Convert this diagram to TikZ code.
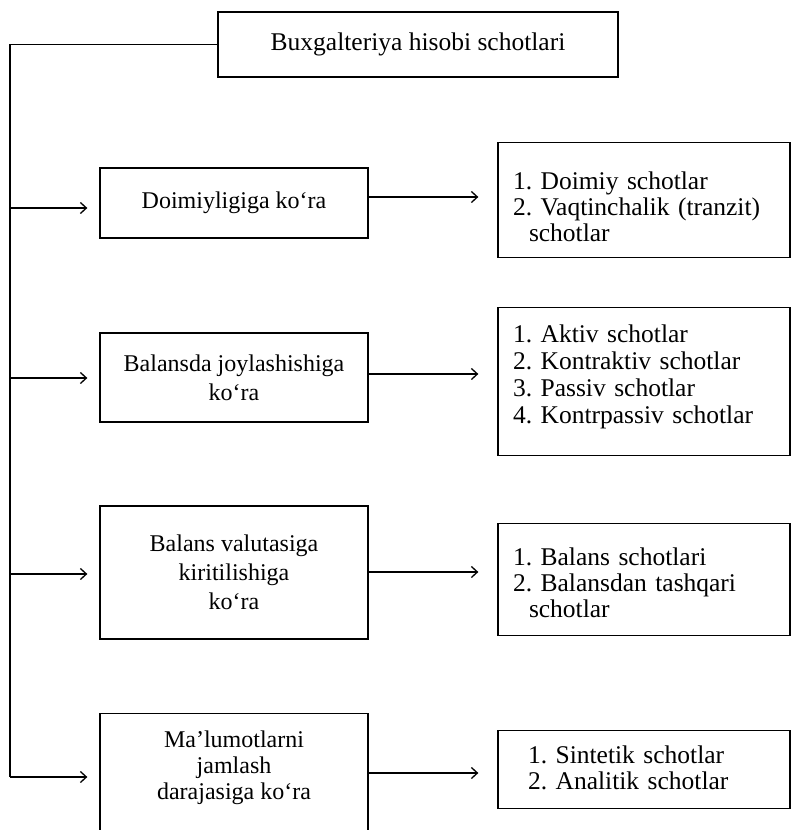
\documentclass[tikz,border=0pt]{standalone}
\usepackage{fontspec}
\setmainfont{Liberation Serif}
\usetikzlibrary{arrows.meta}
\frenchspacing
\begin{document}
\begin{tikzpicture}[x=1pt,y=-1pt,
  box/.style={draw, rectangle, line width=1.3pt, inner sep=0pt},
  crit/.style={box, minimum width=268pt, align=center,
    font=\fontsize{24}{29}\selectfont},
  list/.style={box, anchor=north, minimum width=292pt, text width=262pt, align=left,
    font=\fontsize{25.5}{26}\selectfont},
  arr/.style={-{Straight Barb[length=6pt,width=11pt]}, line width=1.3pt},
]
\clip (0,0) rectangle (791,830);

% title
\node[box, minimum width=400pt, minimum height=65pt,
  font=\fontsize{25.5}{26}\selectfont] (top) at (418,44.5) {Buxgalteriya hisobi schotlari};

% classification criteria
\node[crit, minimum height=70pt] (d1) at (234,203) {Doimiyligiga ko‘ra};
\node[crit, minimum height=89pt] (d2) at (234,377.5) {Balansda joylashishiga\\ko‘ra};
\node[crit, minimum height=133pt] (d3) at (234,572.5) {Balans valutasiga\\kiritilishiga\\ko‘ra};
\node[crit, anchor=north, inner ysep=17pt, text depth=60pt,
  font=\fontsize{24}{26}\selectfont] (d4) at (234,713) {Ma’lumotlarni\\jamlash\\darajasiga ko‘ra};

% account groups (text height = top edge to first baseline)
\node[list, text height=47pt, text depth=68pt] (r1) at (644,142)
  {1. Doimiy schotlar\\2. Vaqtinchalik (tranzit)\\\hspace*{16pt}schotlar};
\node[list, text height=35pt, text depth=113pt,
  font=\fontsize{25.5}{27}\selectfont] (r2) at (644,307)
  {1. Aktiv schotlar\\2. Kontraktiv schotlar\\3. Passiv schotlar\\4. Kontrpassiv schotlar};
\node[list, text height=42pt, text depth=70pt] (r3) at (644,523)
  {1. Balans schotlari\\2. Balansdan tashqari\\\hspace*{16pt}schotlar};
\node[list, text width=232pt, text height=33pt, text depth=45pt] (r4) at (644,730)
  {1. Sintetik schotlar\\2. Analitik schotlar};

% branch levels
\coordinate (j1) at (10,208);
\coordinate (j2) at (10,378);
\coordinate (j3) at (10,574);
\coordinate (j4) at (10,777);
\coordinate (k1) at (0,197);
\coordinate (k2) at (0,374);
\coordinate (k3) at (0,572);
\coordinate (k4) at (0,773);

% left bus
\draw[line width=1.3pt] (top.west) -| (j4);
\foreach \i in {1,2,3,4}{
  \draw[arr, shorten >=12pt] (j\i) -- (j\i -| d\i.west);
  \draw[arr, shorten >=19pt] (d\i.east |- k\i) -- (r\i.west |- k\i);
}
\end{tikzpicture}
\end{document}
